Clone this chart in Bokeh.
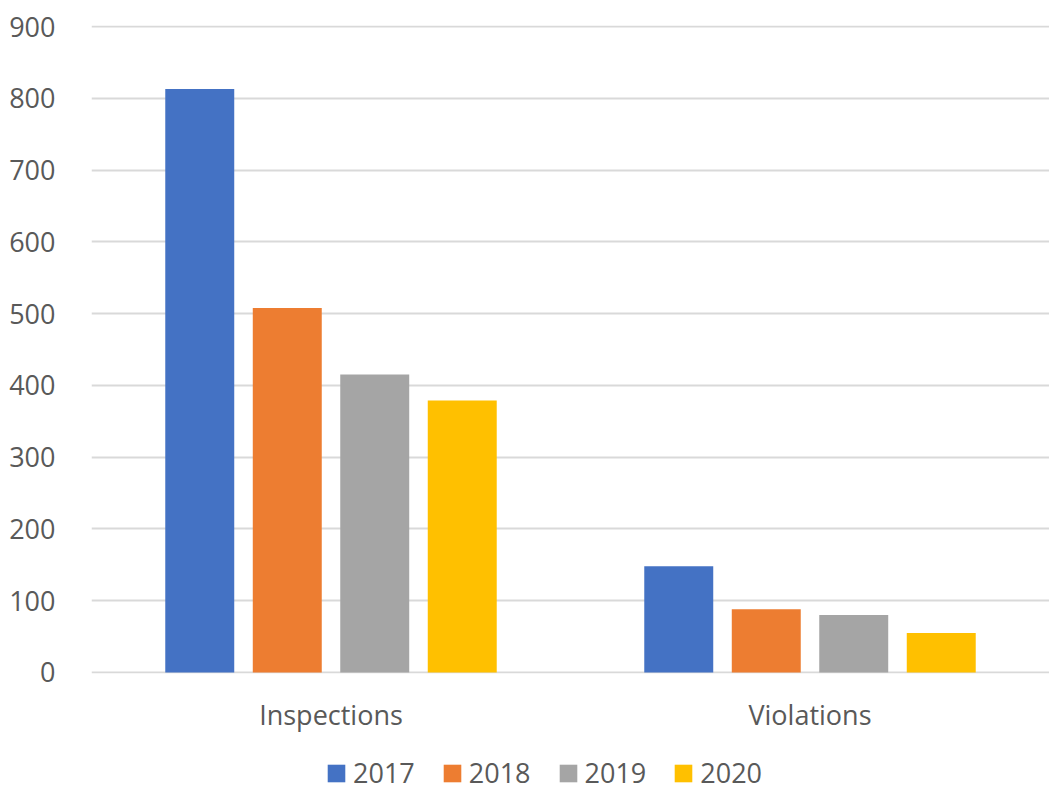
from bokeh.plotting import figure
from bokeh.models import (ColumnDataSource, FactorRange, Range1d, FixedTicker,
                          Legend, LegendItem)
from bokeh.layouts import column
from bokeh.transform import dodge
from bokeh.embed import file_html
from bokeh.resources import INLINE

categories = ["Inspections", "Violations"]
years = ["2017", "2018", "2019", "2020"]
v2017 = [813, 148]
v2018 = [508, 88]
v2019 = [415, 80]
v2020 = [379, 55]
colors = ["#4472C4", "#ED7D31", "#A5A5A5", "#FFC000"]
y_ticks = [0, 100, 200, 300, 400, 500, 600, 700, 800, 900]

source = ColumnDataSource(data={"cat": categories, "2017": v2017, "2018": v2018,
                                "2019": v2019, "2020": v2020})

FONT = "Open Sans"
TXT = "#595959"

p = figure(x_range=FactorRange(*categories), y_range=Range1d(-1.5, 901.5),
           width=1049, height=755, output_backend="svg", toolbar_location=None,
           min_border_left=91, min_border_right=0, min_border_top=25,
           min_border_bottom=82)

offsets = [-0.274, -0.0913, 0.0913, 0.274]
for yr, off, col in zip(years, offsets, colors):
    p.vbar(x=dodge("cat", off, range=p.x_range), top=yr, width=0.144,
           source=source, fill_color=col, line_color=None)

p.outline_line_color = None
p.background_fill_color = "white"
p.border_fill_color = "white"

p.xgrid.visible = False
p.ygrid.grid_line_color = "#d9d9d9"
p.ygrid.grid_line_width = 2

p.yaxis.ticker = FixedTicker(ticks=y_ticks)
p.yaxis.axis_line_color = None
p.yaxis.major_tick_line_color = None
p.yaxis.minor_tick_line_color = None
p.yaxis.major_label_standoff = 30
p.yaxis.major_label_text_font = FONT
p.yaxis.major_label_text_font_size = "27px"
p.yaxis.major_label_text_color = TXT

p.xaxis.axis_line_color = None
p.xaxis.major_tick_line_color = None
p.xaxis.minor_tick_line_color = None
p.xaxis.major_tick_out = 0
p.xaxis.major_label_standoff = 22
p.xaxis.major_label_text_font = FONT
p.xaxis.major_label_text_font_size = "27px"
p.xaxis.major_label_text_color = TXT

# legend strip below the chart (its frame is aligned with the main frame)
lg = figure(width=1049, height=36, output_backend="svg", toolbar_location=None,
            min_border=0, x_range=Range1d(0, 1), y_range=Range1d(0, 1),
            x_axis_location=None, y_axis_location=None)
lg.grid.visible = False
lg.outline_line_color = None
lg.border_fill_color = "white"
items = []
for yr, col in zip(years, colors):
    # zero-size proxy glyph, only used for the legend swatch
    r = lg.vbar(x=[0], top=[0], bottom=[0], width=0, fill_color=col, line_color=None)
    items.append(LegendItem(label=yr, renderers=[r]))
legend = Legend(items=items, orientation="horizontal", location=(234, 0),
                glyph_width=22, glyph_height=22, label_standoff=6, spacing=26,
                label_text_font=FONT, label_text_font_size="27px",
                label_text_color=TXT, border_line_color=None,
                background_fill_alpha=0, padding=0, margin=0)
lg.add_layout(legend, "center")

layout = column(p, lg, spacing=0)
open("out.html", "w").write(file_html(layout, INLINE))
